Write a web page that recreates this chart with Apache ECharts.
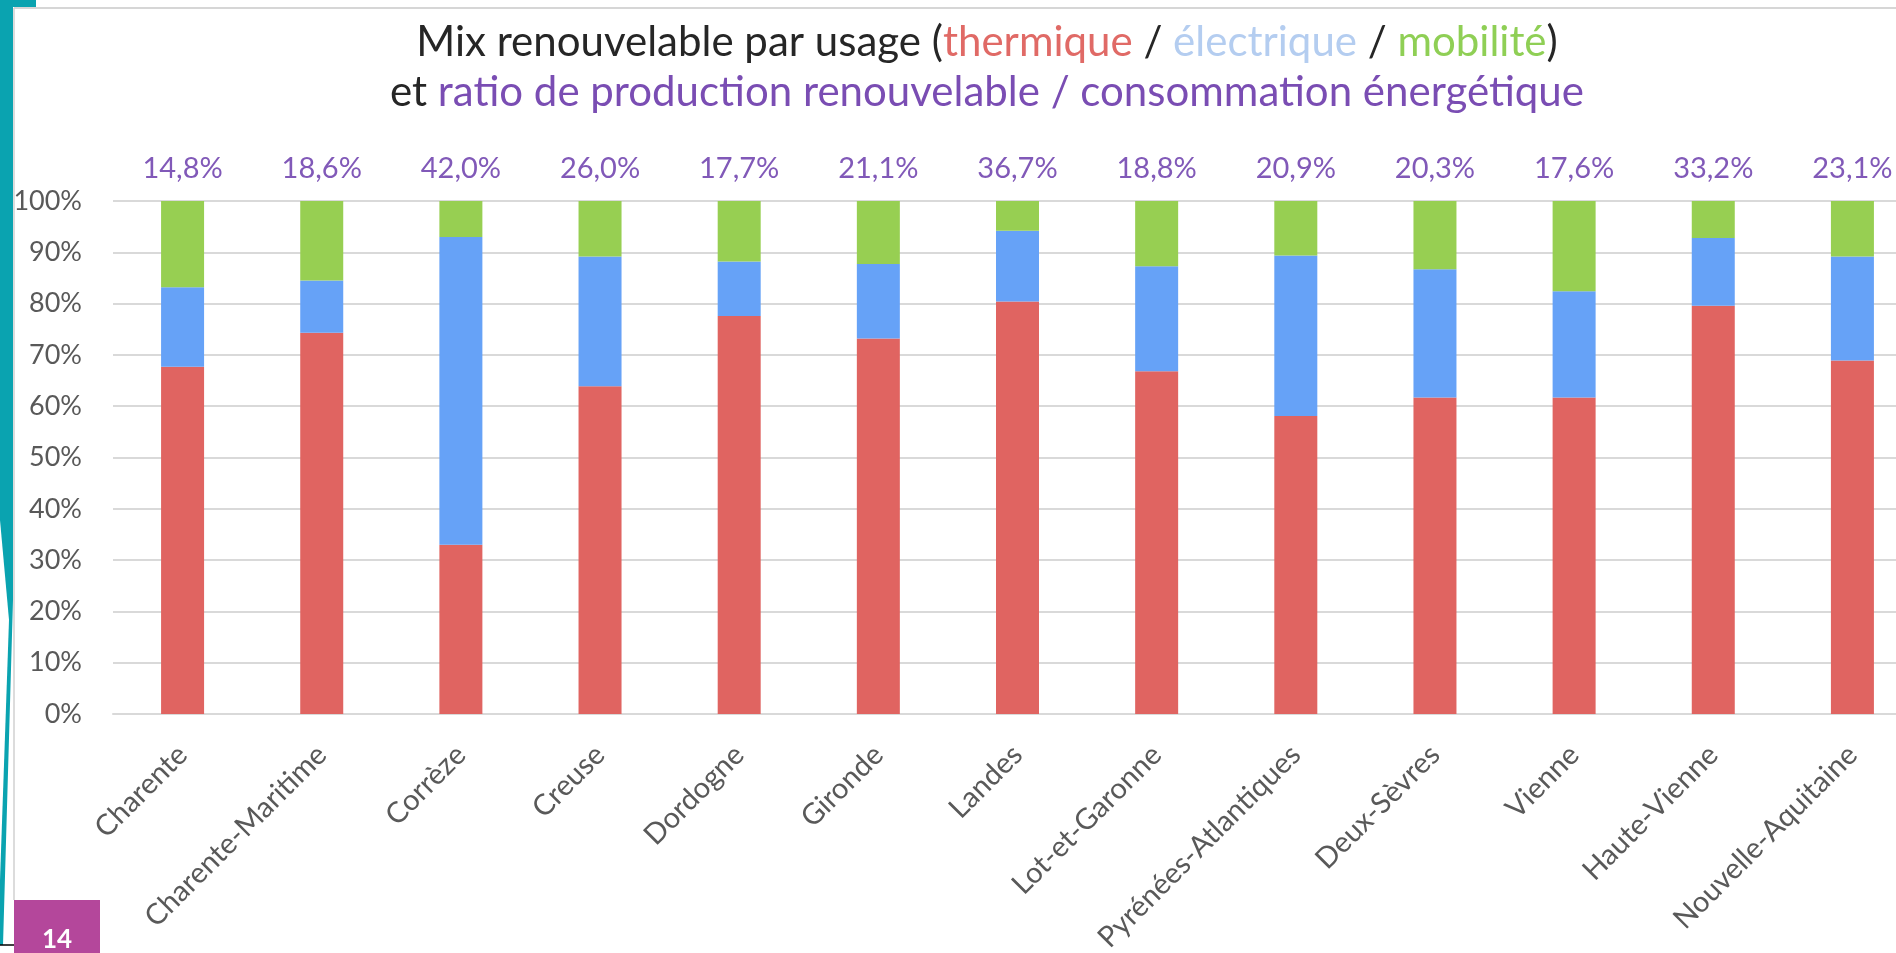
<!DOCTYPE html>
<html>
<head>
<meta charset="utf-8">
<script src="https://cdn.jsdelivr.net/npm/echarts@6/dist/echarts.min.js"></script>
<style>
html,body{margin:0;padding:0;background:#fff;}
#c{width:1896px;height:953px;}
</style>
</head>
<body>
<div id="c"></div>
<script>
const categories = ['Charente','Charente-Maritime','Corrèze','Creuse','Dordogne','Gironde','Landes','Lot-et-Garonne','Pyrénées-Atlantiques','Deux-Sèvres','Vienne','Haute-Vienne','Nouvelle-Aquitaine'];
const thermique = [67.7, 74.3, 33.0, 63.9, 77.6, 73.2, 80.4, 66.8, 58.1, 61.7, 61.7, 79.6, 68.9];
const electrique = [15.5, 10.2, 60.0, 25.3, 10.6, 14.5, 13.8, 20.5, 31.3, 25.0, 20.7, 13.2, 20.3];
const mobilite = [16.8, 15.5, 7.0, 10.8, 11.8, 12.3, 5.8, 12.7, 10.6, 13.3, 17.6, 7.2, 10.8];
const ratioLabels = ['14,8%','18,6%','42,0%','26,0%','17,7%','21,1%','36,7%','18,8%','20,9%','20,3%','17,6%','33,2%','23,1%'];

const FONT = 'Lato, "Open Sans", sans-serif';
const TS = 42;
const rs = c => ({color: c, fontSize: TS, lineHeight: 50, fontFamily: FONT, fontWeight: 'normal'});
const chart = echarts.init(document.getElementById('c'));
chart.setOption({
  backgroundColor: '#ffffff',
  animation: false,
  title: {
    left: 982, top: 12, textAlign: 'center',
    text: '{k|Mix renouvelable par usage (}{r|thermique}{k| / }{b|électrique}{k| / }{g|mobilité}{k|)}\n{k|et }{p|ratio de production renouvelable / consommation énergétique}',
    textStyle: {
      fontFamily: FONT, fontWeight: 'normal', fontSize: TS,
      rich: {k: rs('#262626'), r: rs('#e06a66'), b: rs('#b4cdf0'), g: rs('#8fcf55'), p: rs('#7a4db3')}
    }
  },
  grid: {left: 113, width: 1809, top: 201, bottom: 239, containLabel: false, outerBoundsMode: 'none'},
  xAxis: {
    type: 'category', data: categories,
    axisTick: {show: false},
    axisLine: {show: true, lineStyle: {color: '#d9d9d9', width: 2}},
    axisLabel: {rotate: 45, fontSize: 29, color: '#595959', fontFamily: FONT, margin: 36, interval: 0}
  },
  yAxis: {
    type: 'value', min: 0, max: 100, interval: 10,
    axisLabel: {formatter: '{value}%', fontSize: 27, color: '#595959', fontFamily: FONT, margin: 31},
    splitLine: {lineStyle: {color: '#d9d9d9', width: 2}},
    axisLine: {show: false}, axisTick: {show: false}
  },
  series: [
    {name: 'thermique', type: 'bar', stack: 'mix', data: thermique, barWidth: 43, itemStyle: {color: '#e06461'}},
    {name: 'électrique', type: 'bar', stack: 'mix', data: electrique, barWidth: 43, itemStyle: {color: '#66a2f7'}},
    {name: 'mobilité', type: 'bar', stack: 'mix', data: mobilite, barWidth: 43, itemStyle: {color: '#97cf52'},
      label: {show: true, position: 'top', distance: 18, fontSize: 29, color: '#8159b8', fontFamily: FONT,
        formatter: p => ratioLabels[p.dataIndex]}}
  ],
  graphic: [
    {type: 'polygon', z: 100, shape: {points: [[0,0],[36,0],[36,7],[13,7],[13,600],[3,945],[0,945]]}, style: {fill: '#0aa3b0'}},
    {type: 'polygon', z: 101, shape: {points: [[0,520],[9,620],[0,880]]}, style: {fill: '#ffffff'}},
    {type: 'line', z: 100, shape: {x1: 14, y1: 8, x2: 1896, y2: 8}, style: {stroke: '#c8c8c8', lineWidth: 1.5}},
    {type: 'line', z: 100, shape: {x1: 14, y1: 8, x2: 14, y2: 900}, style: {stroke: '#d0d0d0', lineWidth: 1.5}},
    {type: 'rect', z: 100, shape: {x: 14, y: 900, width: 86, height: 53}, style: {fill: '#b4479b'}},
    {type: 'text', z: 101, x: 57, y: 940, style: {text: '14', fill: '#ffffff', fontSize: 26, fontWeight: 'bold', fontFamily: FONT, align: 'center', verticalAlign: 'middle'}},
    {type: 'line', z: 100, shape: {x1: 0, y1: 945, x2: 14, y2: 945}, style: {stroke: '#000000', lineWidth: 1.5}}
  ]
});
</script>
</body>
</html>
